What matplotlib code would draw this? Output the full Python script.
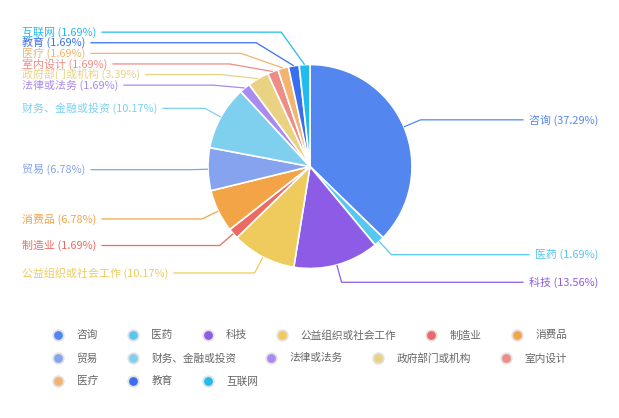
import matplotlib
matplotlib.use('Agg')
import matplotlib.pyplot as plt
import numpy as np

plt.rcParams['font.family'] = ['Noto Sans CJK SC', 'DejaVu Sans']

# ---- data ----
categories = ['咨询', '医药', '科技', '公益组织或社会工作', '制造业', '消费品', '贸易',
              '财务、金融或投资', '法律或法务', '政府部门或机构', '室内设计', '医疗', '教育', '互联网']
counts = [22, 1, 8, 6, 1, 4, 4, 6, 1, 2, 1, 1, 1, 1]
colors = ['#5486F0', '#55C7F0', '#8D5CE6', '#EFCB5D', '#EC6A63', '#F2A447', '#85A3EE',
          '#7FD0EE', '#A98AEE', '#EAD283', '#EE8C86', '#F2B46E', '#3A6EF0', '#22BBF0']

# ---- layout ----
W, H = 619, 418
FS = 7.9
cx, cy = 310, 166.5      # pixel coords (y downward)
R = 102
R2 = R + 18
LH = 10.6

fig = plt.figure(figsize=(W / 100, H / 100), dpi=100)
ax = fig.add_axes([0, 0, 1, 1])
ax.pie(counts, colors=colors, startangle=90, counterclock=False,
       center=(cx, H - cy), radius=R, frame=True,
       wedgeprops=dict(edgecolor='white', linewidth=1.2))
ax.set_xlim(0, W)
ax.set_ylim(0, H)
ax.set_aspect('auto')
ax.axis('off')

total = sum(counts)
cum = np.cumsum([0] + counts)
mids = (cum[:-1] + cum[1:]) / 2 / total * 2 * np.pi
sx = cx + R * np.sin(mids)
sy = cy - R * np.cos(mids)
ex = cx + R2 * np.sin(mids)
ey = cy - R2 * np.cos(mids)
side = np.where(np.sin(mids) >= 0, 1, -1)


def resolve(idx, ys, h):
    order = sorted(idx, key=lambda i: ys[i])
    blocks = [[i] for i in order]

    def pos(block):
        nat = [ys[i] for i in block]
        n = len(block)
        if n == 1:
            return nat
        pushed = [nat[0]]
        shifts = 0.0
        for k in range(1, n):
            p = max(nat[k], pushed[-1] + h)
            shifts += p - nat[k]
            pushed.append(p)
        back = shifts / (n + 1)
        return [p - back for p in pushed]

    changed = True
    while changed:
        changed = False
        for b in range(len(blocks) - 1):
            p1 = pos(blocks[b])
            p2 = pos(blocks[b + 1])
            if p2[0] - p1[-1] < h:
                blocks[b] = blocks[b] + blocks[b + 1]
                del blocks[b + 1]
                changed = True
                break
    new = {}
    for bl in blocks:
        for i, p in zip(bl, pos(bl)):
            new[i] = p
    return new


ly = ey.copy()
lx = ex.copy()
for s in (1, -1):
    idx = [i for i in range(len(counts)) if side[i] == s]
    new = resolve(idx, ey, LH)
    for i in idx:
        ly[i] = new[i]
    for semi in ('top', 'bottom'):
        sel = [i for i in idx if abs(ly[i] - ey[i]) > 0.5 and ((ly[i] < cy) == (semi == 'top'))]
        if not sel:
            continue
        rB = max(R2, 1.03 * max(abs(ly[i] - cy) for i in sel))
        for i in sel:
            dy = abs(ly[i] - cy)
            lx[i] = cx + s * R2 * np.sqrt(max(0.0, 1 - dy * dy / (rB * rB)))

renderer = fig.canvas.get_renderer()
for i, cat in enumerate(categories):
    pct = counts[i] / total * 100
    label = f'{cat} ({pct:.2f}%)'
    if side[i] > 0:
        t = ax.text(598, H - ly[i], label, ha='right', va='center', fontsize=FS, color=colors[i])
        bb = t.get_window_extent(renderer)
        end = bb.x0 - 5
    else:
        t = ax.text(22, H - ly[i], label, ha='left', va='center', fontsize=FS, color=colors[i])
        bb = t.get_window_extent(renderer)
        end = bb.x1 + 5
    ax.plot([sx[i], lx[i], end], [H - sy[i], H - ly[i], H - ly[i]],
            color=colors[i], lw=0.9, solid_capstyle='butt')

# ---- legend ----
x = 58
y = 335.3
row_start = True
for i, cat in enumerate(categories):
    t = ax.text(x + 18.5, H - y, cat, ha='left', va='center', fontsize=7.7, color='#666666')
    w = t.get_window_extent(renderer).width
    if x + 18.5 + w > 600 and not row_start:
        x = 58
        y += 23
        t.set_position((x + 18.5, H - y))
    ax.plot([x], [H - y], 'o', ms=7.6, mfc=colors[i], mec='#e2e2e2', mew=1.3)
    x = x + 18.5 + w + 35
    row_start = False

fig.savefig('out.png', dpi=100)
